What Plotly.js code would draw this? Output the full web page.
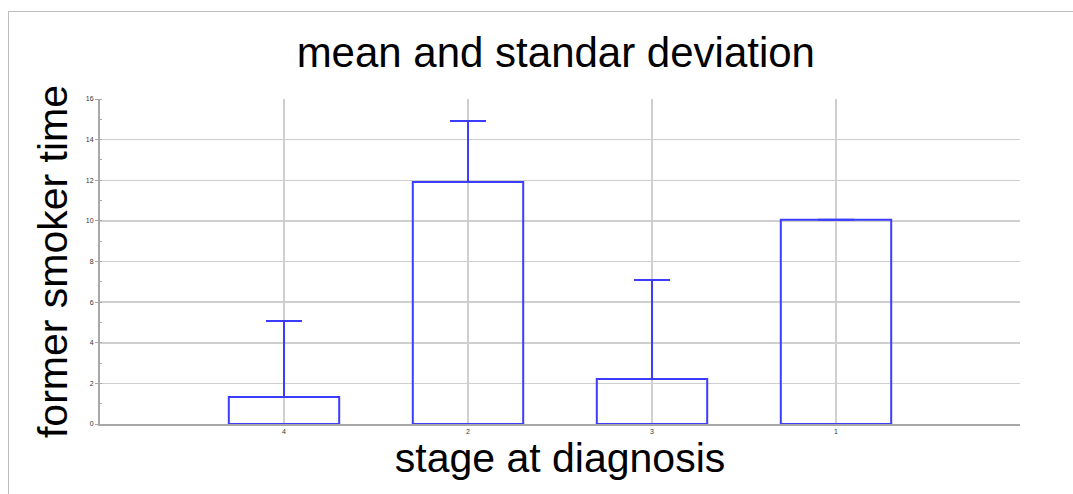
<!DOCTYPE html>
<html>
<head>
<meta charset="utf-8">
<script src="https://cdn.plot.ly/plotly-3.0.1.min.js"></script>
<style>
  html, body { margin: 0; padding: 0; background: #fff; }
  #wrap { position: relative; width: 1073px; height: 494px; overflow: hidden; }
  #chart { position: absolute; left: 0; top: 0; width: 1073px; height: 494px; }
  #frame { position: absolute; left: 8px; top: 11px; width: 1080px; height: 500px;
           border-left: 1px solid #bdbdbd; border-top: 1px solid #bdbdbd; pointer-events: none; }
</style>
</head>
<body>
<div id="wrap">
  <div id="chart"></div>
  <div id="frame"></div>
</div>
<script>
const categories = ["4", "2", "3", "1"];
const means = [1.33, 11.92, 2.22, 10.05];
const stdDevs = [3.74, 3.0, 4.87, 0];
const yTickValues = [0, 2, 4, 6, 8, 10, 12, 14, 16];
const yTickLabels = ["0", "2", "4", "6", "8", "10", "12", "14", "16"];

const blue = "rgb(60,60,255)";

const trace = {
  type: "bar",
  x: categories,
  y: means,
  width: 0.6,
  marker: { color: "rgba(255,255,255,0)", line: { color: blue, width: 2 } },
  error_y: {
    type: "data",
    symmetric: false,
    array: stdDevs,
    arrayminus: [0, 0, 0, 0],
    color: blue,
    thickness: 2,
    width: 18
  },
  hoverinfo: "skip"
};

const layout = {
  width: 1073,
  height: 494,
  margin: { l: 100, r: 53, t: 99, b: 70 },
  paper_bgcolor: "#fff",
  plot_bgcolor: "#fff",
  showlegend: false,
  font: { family: "Liberation Sans, Arial, sans-serif", color: "#000" },
  title: {
    text: "mean and standar deviation",
    font: { size: 42, color: "#000" },
    x: 0.518, xanchor: "center",
    y: 0.895, yanchor: "middle"
  },
  xaxis: {
    type: "category",
    range: [-1, 4],
    showgrid: true,
    gridcolor: "#cfcfcf",
    gridwidth: 1.5,
    showline: true,
    linecolor: "#a8a8a8",
    linewidth: 2,
    ticks: "",
    tickfont: { size: 7, color: "#333" },
    title: { text: "stage at diagnosis", font: { size: 41, color: "#000" }, standoff: 3 },
    zeroline: false,
    fixedrange: true
  },
  yaxis: {
    range: [0, 16],
    tickvals: yTickValues,
    ticktext: yTickLabels,
    showgrid: true,
    gridcolor: "#cfcfcf",
    gridwidth: 1.5,
    showline: true,
    linecolor: "#a8a8a8",
    linewidth: 2,
    ticks: "outside",
    ticklen: 3,
    tickcolor: "#a8a8a8",
    tickfont: { size: 7, color: "#333" },
    minor: { dtick: 1, ticks: "inside", ticklen: 2, tickcolor: "#a8a8a8", showgrid: false },
    title: { text: "former smoker time", font: { size: 41, color: "#000" }, standoff: 5 },
    zeroline: false,
    fixedrange: true
  },
  bargap: 0.4
};

Plotly.newPlot("chart", [trace], layout, { displayModeBar: false, staticPlot: true });
</script>
</body>
</html>
